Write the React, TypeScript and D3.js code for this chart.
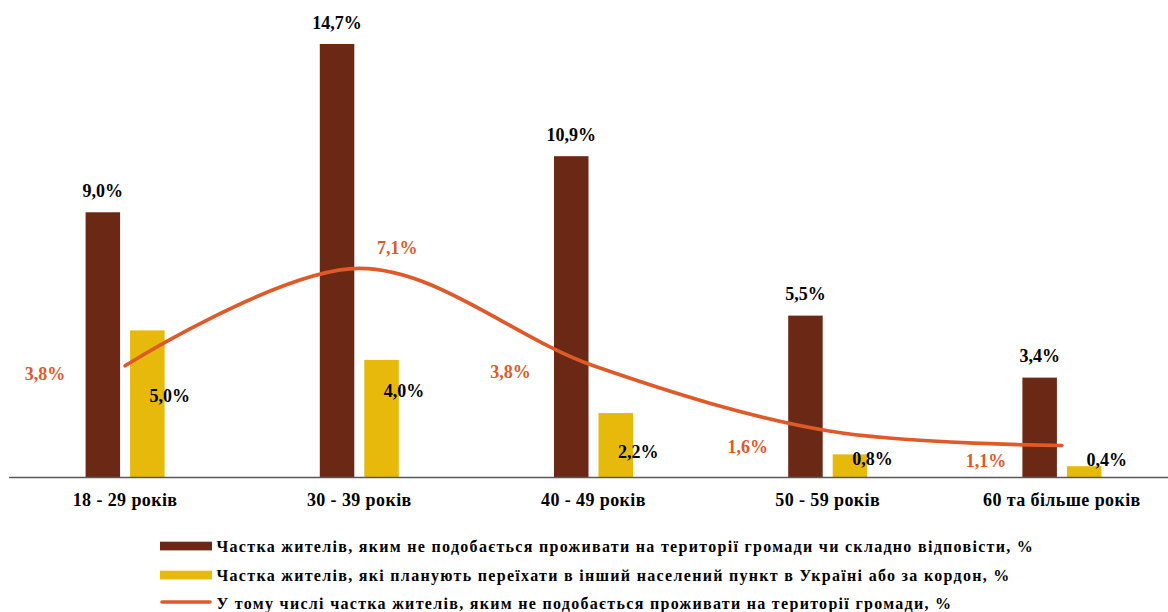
import React from "react";
import * as d3 from "d3";

const categories = ["18 - 29 років", "30 - 39 років", "40 - 49 років", "50 - 59 років", "60 та більше років"];
const dislikeShare = [9.0, 14.7, 10.9, 5.5, 3.4];
const planMoveShare = [5.0, 4.0, 2.2, 0.8, 0.4];
const dislikeTerritoryShare = [3.8, 7.1, 3.8, 1.6, 1.1];
const seriesNames = [
  "Частка жителів, яким не подобається проживати на території громади чи складно відповісти, %",
  "Частка жителів, які планують переїхати в інший населений пункт в Україні або за кордон, %",
  "У тому числі частка жителів, яким не подобається проживати на території громади, %",
];

// label nudges (styling only)
const yellowLabelDy = [72, 37, 45, 11, 0];
const lineLabelDx = [-80, 38, -83, -80, -76];
const lineLabelDy = [14, -14, 12, 22, 21.5];

const W = 1168;
const H = 612;
const BROWN = "#6B2915";
const YELLOW = "#E6B90A";
const ORANGE = "#DE5A28";
const FONT = "Liberation Serif, Times New Roman, serif";

const fmt = (v: number) => v.toFixed(1).replace(".", ",") + "%";

export default function App() {
  const x = d3.scaleBand<string>().domain(categories).range([8, 1179]).paddingInner(0).paddingOuter(0);
  const y = d3.scaleLinear().domain([0, 16]).range([478, 5.6]);
  const inner = d3.scaleBand<string>().domain(["a", "b"]).range([-39.5, 39.5]).paddingInner(0.225);
  const cx = (c: string) => (x(c) as number) + x.bandwidth() / 2;
  const bw = inner.bandwidth();

  const linePts: [number, number][] = categories.map((c, i) => [cx(c), y(dislikeTerritoryShare[i])]);
  const lineGen = d3.line().curve(d3.curveCardinal.tension(0));
  const path = lineGen(linePts) || "";

  const legendY = [546, 575, 603];
  const ts = { fontFamily: FONT, fontWeight: 700 } as React.CSSProperties;

  return (
    <svg width={W} height={H} style={{ position: "absolute", left: 0, top: 0, background: "#fff", fontFamily: FONT, fontWeight: 700 }}>
      {categories.map((c, i) => {
        const c0 = cx(c);
        const bx = c0 + (inner("a") as number);
        const yx = c0 + (inner("b") as number);
        return (
          <g key={c}>
            <rect x={bx} y={y(dislikeShare[i])} width={bw} height={y(0) - y(dislikeShare[i])} fill={BROWN} />
            <rect x={yx} y={y(planMoveShare[i])} width={bw} height={y(0) - y(planMoveShare[i])} fill={YELLOW} />
          </g>
        );
      })}
      <line x1={9} x2={1168} y1={477.5} y2={477.5} stroke="#595959" strokeWidth={1.3} />
      <path d={path} fill="none" stroke={ORANGE} strokeWidth={3.6} strokeLinecap="round" />
      {categories.map((c, i) => {
        const c0 = cx(c);
        const bxc = c0 + (inner("a") as number) + bw / 2;
        const yxc = c0 + (inner("b") as number) + bw / 2;
        return (
          <g key={"l" + c}>
            <text style={ts} x={bxc} y={y(dislikeShare[i]) - 15.3} textAnchor="middle" fontSize={18} fill="#000">
              {fmt(dislikeShare[i])}
            </text>
            <text style={ts} x={yxc + 22.5} y={y(planMoveShare[i]) + yellowLabelDy[i]} textAnchor="middle" fontSize={18} fill="#000">
              {fmt(planMoveShare[i])}
            </text>
            <text style={ts} x={linePts[i][0] + lineLabelDx[i]} y={linePts[i][1] + lineLabelDy[i]} textAnchor="middle" fontSize={18} fill={ORANGE}>
              {fmt(dislikeTerritoryShare[i])}
            </text>
            <text style={{ ...ts, letterSpacing: 0.4 }} x={c0} y={506} textAnchor="middle" fontSize={18} fill="#000">
              {c}
            </text>
          </g>
        );
      })}
      {seriesNames.map((n, i) => (
        <g key={n}>
          {i < 2 ? (
            <rect x={160} y={legendY[i] - 4.3} width={52} height={8.7} fill={i === 0 ? BROWN : YELLOW} />
          ) : (
            <line x1={162} x2={210} y1={legendY[i] - 1} y2={legendY[i] - 1} stroke={ORANGE} strokeWidth={3.6} strokeLinecap="round" />
          )}
          <text style={{ ...ts, letterSpacing: 1.3 }} x={216.5} y={legendY[i] + 5.5} fontSize={16} fill="#000">
            {n}
          </text>
        </g>
      ))}
    </svg>
  );
}
